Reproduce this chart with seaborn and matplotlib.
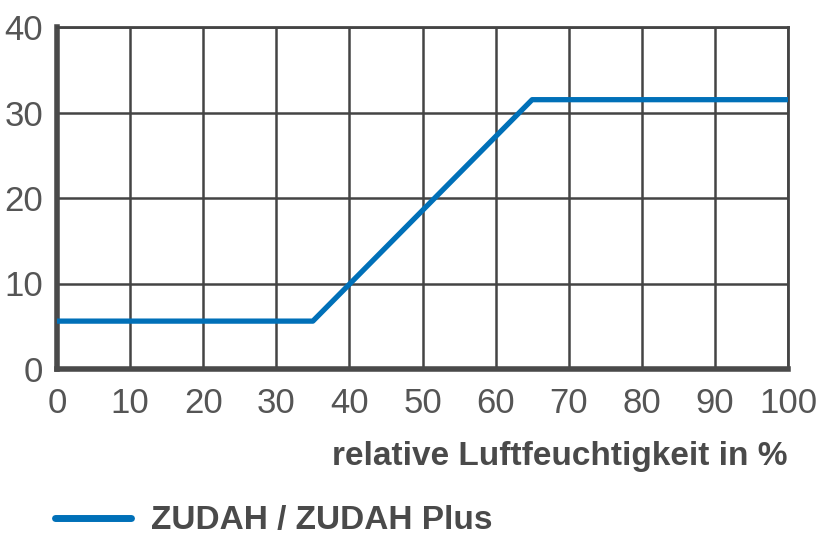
import matplotlib
matplotlib.use("Agg")
import matplotlib.pyplot as plt
import seaborn as sns
import pandas as pd

# data
humidity = [0, 35, 65, 100]
values = [5.6, 5.6, 31.5, 31.5]
series_name = "ZUDAH / ZUDAH Plus"
x_ticks = [0, 10, 20, 30, 40, 50, 60, 70, 80, 90, 100]
y_ticks = [0, 10, 20, 30, 40]

sns.set_style("white")
plt.rcParams['font.family'] = ['Liberation Sans Narrow', 'Liberation Sans', 'DejaVu Sans']

df = pd.DataFrame({"x": humidity, "y": values, "name": series_name})

fig = plt.figure(figsize=(8.18, 5.36), dpi=100)
ax = fig.add_axes([57 / 818, 1 - 369 / 536, (788 - 57) / 818, (369 - 27) / 536])

sns.lineplot(data=df, x="x", y="y", hue="name", palette=["#0070b8"],
             linewidth=3.8, ax=ax, legend=False, zorder=5)

grid_col = "#444444"
ax.set_xlim(0, 100)
ax.set_ylim(0, 40)
ax.set_xticks(x_ticks)
ax.set_yticks(y_ticks)
ax.grid(True, color=grid_col, linewidth=1.8)
ax.tick_params(axis="both", length=0, labelsize=25, labelcolor="#555555")
ax.tick_params(axis="x", pad=13)
ax.tick_params(axis="y", pad=10)
for side in ["top", "right"]:
    ax.spines[side].set_color(grid_col)
    ax.spines[side].set_linewidth(2)
for side in ["left", "bottom"]:
    ax.spines[side].set_color("#4a4a4a")
    ax.spines[side].set_linewidth(4)
ax.set_ylabel("")
ax.set_xlabel("relative Luftfeuchtigkeit in %", fontsize=24, color="#4a4a4a",
              fontweight="bold", loc="right", labelpad=15)

handle = plt.Line2D([], [], color="#0070b8", linewidth=5, solid_capstyle="round")
fig.legend([handle], [series_name], loc="center left", bbox_to_anchor=(0.03, 1 - 521 / 536),
           frameon=False, handlelength=2.3, handletextpad=0.6,
           prop={"size": 24, "weight": "bold"}, labelcolor="#4a4a4a")

fig.savefig("out.png", dpi=100)
